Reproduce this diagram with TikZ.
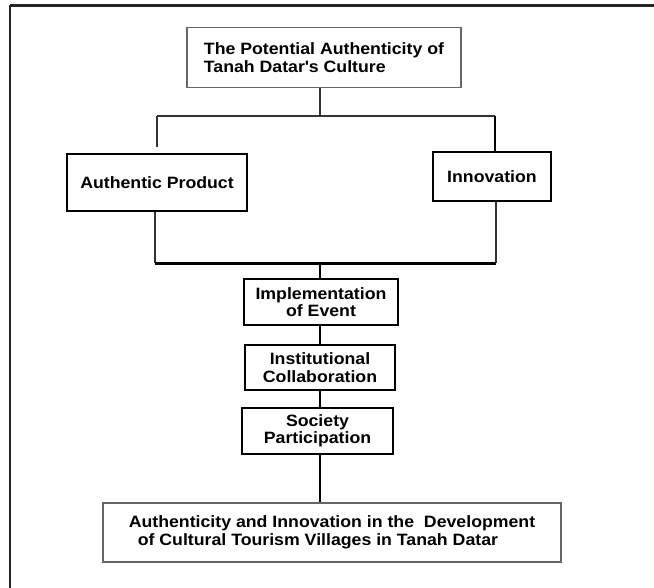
\documentclass[tikz,border=0pt]{standalone}
\usepackage{fontspec}
\setmainfont{Liberation Sans}[FakeStretch=1.08]
\usepackage{tikz}
\usetikzlibrary{positioning}

\begin{document}
\begin{tikzpicture}[x=1pt, y=-1pt,
  box/.style={rectangle, draw, line width=2.6pt, inner sep=2pt,
    font=\fontsize{16.4}{17.5}\selectfont\bfseries, align=center},
  softbox/.style={box, draw=black!60, line width=1.6pt},
  link/.style={draw=black!80, line width=1.4pt},
  bus/.style={draw=black, line width=2.6pt}
]
  \useasboundingbox (0,0) rectangle (654,588);

  % frame
  \draw[line width=2.4pt, black!85] (10,5.5) -- (654,5.5);
  \draw[line width=2pt, black!85] (10,5.5) -- (10,588);

  % boxes
  \node[softbox, align=left, minimum width=274pt, minimum height=60pt]
    (top) at (324,57.5) {The Potential Authenticity of\\Tanah Datar\textquotesingle s Culture};
  \node[box, minimum width=180pt, minimum height=57pt]
    (prod) at (157,182.5) {Authentic Product};
  \node[box, minimum width=118pt, minimum height=49pt]
    (innov) at (492,176.5) {Innovation};
  \node[box, minimum width=154pt, minimum height=46pt]
    (impl) at (321,302) {Implementation\\of Event};
  \node[box, minimum width=150pt, minimum height=45pt]
    (inst) at (320,367.5) {Institutional\\Collaboration};
  \node[box, minimum width=151pt, minimum height=46pt]
    (soc) at (317.5,431) {Society\\Participation};
  \node[softbox, align=left, minimum width=458pt, minimum height=59pt]
    (goal) at (332,532.5) {Authenticity and Innovation in the \ Development\\
    \hspace{9pt}of Cultural Tourism Villages in Tanah Datar};

  % upper split
  \coordinate (j1) at (320,116);
  \coordinate (j1l) at (157,116);
  \coordinate (j1r) at (495,116);
  \draw[link] (top.south -| j1) -- (j1);
  \draw[link] (j1l) -- (j1r);
  \draw[link, shorten >=6pt] (j1l) -- (j1l |- prod.north);
  \draw[bus] (j1r) -- (j1r |- innov.north);

  % lower join
  \coordinate (j2) at (320,263.5);
  \coordinate (j2l) at (155,263.5);
  \coordinate (j2r) at (496,263.5);
  \draw[link] (prod.south -| j2l) -- (j2l);
  \draw[link] (innov.south -| j2r) -- (j2r);
  \draw[bus] (j2l) -- (j2r);
  \draw[bus] (j2) -- (impl.north -| j2);
  \draw[bus] (impl.south -| j2) -- (inst.north -| j2);
  \draw[bus] (inst.south -| j2) -- (soc.north -| j2);
  \draw[bus] (soc.south -| j2) -- (goal.north -| j2);
\end{tikzpicture}
\end{document}
